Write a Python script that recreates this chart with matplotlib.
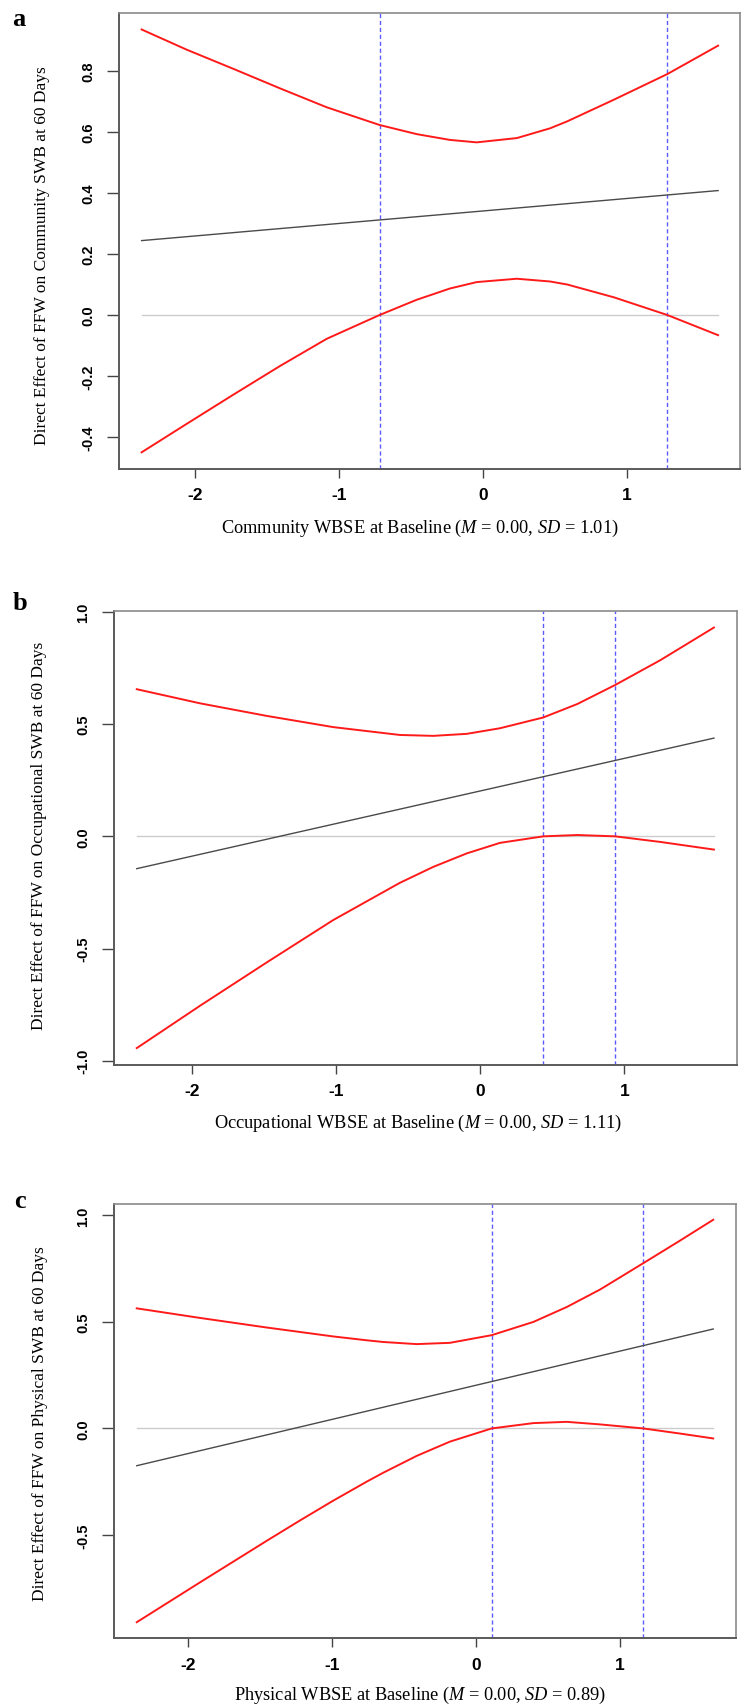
import matplotlib
matplotlib.use("Agg")
import matplotlib.pyplot as plt

plt.rcParams['mathtext.fontset'] = 'custom'
plt.rcParams['mathtext.rm'] = 'Liberation Serif'
plt.rcParams['mathtext.it'] = 'Liberation Serif:italic'

# ---------------- data ----------------
# Panel a: Community
a_x = [-2.372, -2.06, -1.735, -1.411, -1.087, -0.72, -0.462, -0.231, -0.045,
       0.233, 0.464, 0.584, 0.908, 1.279, 1.631]
a_upper = [0.936, 0.870, 0.807, 0.743, 0.681, 0.623, 0.593, 0.574, 0.566,
           0.580, 0.612, 0.635, 0.706, 0.790, 0.883]
a_lower = [-0.450, -0.357, -0.261, -0.167, -0.078, 0.0, 0.050, 0.087, 0.108,
           0.119, 0.110, 0.100, 0.058, 0.0, -0.066]
a_effect_x = [-2.372, 1.631]
a_effect_y = [0.244, 0.408]
a_jn = [-0.72, 1.279]
a_yticks = [-0.4, -0.2, 0.0, 0.2, 0.4, 0.6, 0.8]
a_ylabels = ["-0.4", "-0.2", "0.0", "0.2", "0.4", "0.6", "0.8"]

# Panel b: Occupational
b_x = [-2.386, -1.946, -1.483, -1.021, -0.558, -0.326, -0.094, 0.137, 0.4375,
       0.674, 0.9375, 1.252, 1.623]
b_upper = [0.656, 0.593, 0.537, 0.487, 0.452, 0.448, 0.457, 0.482, 0.530,
           0.590, 0.675, 0.786, 0.931]
b_lower = [-0.944, -0.755, -0.562, -0.373, -0.207, -0.136, -0.076, -0.029, 0.0,
           0.006, 0.0, -0.025, -0.059]
b_effect_x = [-2.386, 1.623]
b_effect_y = [-0.144, 0.438]
b_jn = [0.4375, 0.9375]
b_yticks = [-1.0, -0.5, 0.0, 0.5, 1.0]
b_ylabels = ["-1.0", "-0.5", "0.0", "0.5", "1.0"]

# Panel c: Physical
c_x = [-2.356, -1.917, -1.454, -1.222, -0.991, -0.759, -0.644, -0.412, -0.181,
       0.109, 0.398, 0.630, 0.861, 1.162, 1.417, 1.648]
c_upper = [0.564, 0.519, 0.474, 0.453, 0.432, 0.414, 0.406, 0.396, 0.402,
           0.438, 0.500, 0.570, 0.652, 0.776, 0.882, 0.980]
c_lower = [-0.910, -0.723, -0.528, -0.432, -0.339, -0.250, -0.208, -0.129, -0.062,
           0.0, 0.025, 0.031, 0.019, 0.0, -0.024, -0.047]
c_effect_x = [-2.356, 1.648]
c_effect_y = [-0.175, 0.467]
c_jn = [0.109, 1.162]
c_yticks = [-0.5, 0.0, 0.5, 1.0]
c_ylabels = ["-0.5", "0.0", "0.5", "1.0"]

x_ticks = [-2, -1, 0, 1]
x_ticklabels = ["-2", "-1", "0", "1"]

letters = ["a", "b", "c"]
y_titles = ["Direct Effect of FFW on Community SWB at 60 Days",
            "Direct Effect of FFW on Occupational SWB at 60 Days",
            "Direct Effect of FFW on Physical SWB at 60 Days"]
x_titles = [r"Community WBSE at Baseline ($\mathit{M}$ = 0.00, $\mathit{SD}$ = 1.01)",
            r"Occupational WBSE at Baseline ($\mathit{M}$ = 0.00, $\mathit{SD}$ = 1.11)",
            r"Physical WBSE at Baseline ($\mathit{M}$ = 0.00, $\mathit{SD}$ = 0.89)"]

# ---------------- layout ----------------
W, H = 744, 1706
fig = plt.figure(figsize=(W / 100, H / 100), dpi=100)


def frac_box(l, t, r, b):
    return [l / W, 1 - b / H, (r - l) / W, (b - t) / H]


panels = [
    dict(x=a_x, up=a_upper, lo=a_lower, ex=a_effect_x, ey=a_effect_y, jn=a_jn,
         yt=a_yticks, yl=a_ylabels, box=(119, 14, 740, 469.5),
         xlim=(-2.529, 1.783), ylim=(-0.503, 0.990),
         letter_pos=(19, 20), ylab_pos=(42, 256), xlab_pos=(420, 528)),
    dict(x=b_x, up=b_upper, lo=b_lower, ex=b_effect_x, ey=b_effect_y, jn=b_jn,
         yt=b_yticks, yl=b_ylabels, box=(114, 611.7, 736.7, 1065.7),
         xlim=(-2.544, 1.781), ylim=(-1.018, 1.006),
         letter_pos=(20, 603), ylab_pos=(39, 836), xlab_pos=(418, 1123)),
    dict(x=c_x, up=c_upper, lo=c_lower, ex=c_effect_x, ey=c_effect_y, jn=c_jn,
         yt=c_yticks, yl=c_ylabels, box=(114, 1205, 736, 1639.4),
         xlim=(-2.514, 1.806), ylim=(-0.986, 1.054),
         letter_pos=(20, 1202), ylab_pos=(40, 1424), xlab_pos=(420, 1695)),
]

for i, p in enumerate(panels):
    ax = fig.add_axes(frac_box(*p['box']))
    ax.set_xlim(*p['xlim'])
    ax.set_ylim(*p['ylim'])

    # zero reference line over the data range
    ax.plot([p['x'][0], p['x'][-1]], [0, 0], color='#cccccc', lw=1.0, zorder=1)
    # Johnson-Neyman boundaries
    for v in p['jn']:
        ax.axvline(v, color='#5b5bff', lw=1.0, linestyle=(0, (3.0, 2.0)), zorder=2)
    # conditional effect
    ax.plot(p['ex'], p['ey'], color='#4a4a4a', lw=1.0, zorder=3)
    # confidence bands
    ax.plot(p['x'], p['up'], color='#ff1a1a', lw=1.4, zorder=4)
    ax.plot(p['x'], p['lo'], color='#ff1a1a', lw=1.4, zorder=4)

    for side in ['top', 'right']:
        ax.spines[side].set_color('#8a8a8a')
        ax.spines[side].set_linewidth(1.2)
    for side in ['left', 'bottom']:
        ax.spines[side].set_color('#5a5a5a')
        ax.spines[side].set_linewidth(1.4)

    ax.set_xticks(x_ticks)
    ax.set_xticklabels(x_ticklabels, fontfamily='Liberation Sans',
                       fontweight='bold', fontsize=12.5)
    ax.set_yticks(p['yt'])
    ax.set_yticklabels(p['yl'], fontfamily='Liberation Sans', fontweight='bold',
                       fontsize=10.5, rotation=90, va='center')
    ax.tick_params(axis='x', length=6.5, width=1.0, color='#444444', pad=7)
    ax.tick_params(axis='y', length=9, width=1.0, color='#444444', pad=8)

    lx, ly = p['letter_pos']
    fig.text(lx / W, 1 - ly / H, letters[i], fontfamily='Liberation Serif',
             fontweight='bold', fontsize=19, ha='center', va='center')
    yx, yy = p['ylab_pos']
    fig.text(yx / W, 1 - yy / H, y_titles[i], fontfamily='Liberation Serif',
             fontsize=12.5, rotation=90, ha='center', va='center')
    xx, xy = p['xlab_pos']
    fig.text(xx / W, 1 - xy / H, x_titles[i], fontfamily='Liberation Serif',
             fontsize=13.2, ha='center', va='center')

fig.savefig("out.png", dpi=100)
